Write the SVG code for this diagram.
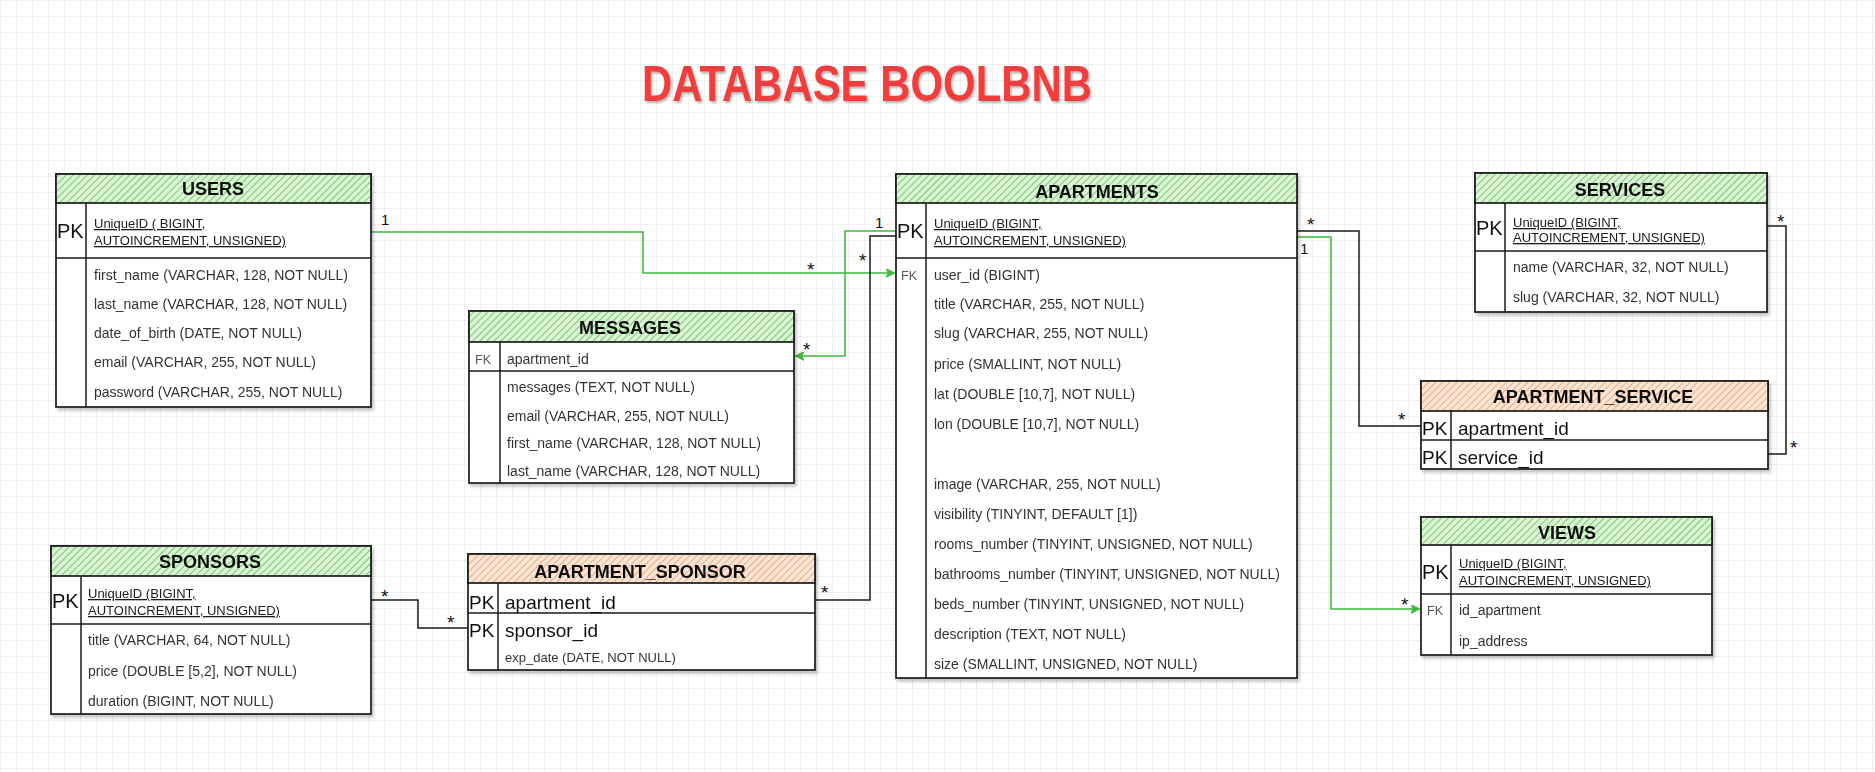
<svg xmlns="http://www.w3.org/2000/svg" width="1875" height="772" viewBox="0 0 1875 772">
<defs>
<pattern id="grid" width="16" height="16" patternUnits="userSpaceOnUse">
<path d="M16 0H0V16" fill="none" stroke="#e2e2e2" stroke-width="1"/>
</pattern>
<pattern id="hatchG" width="5" height="5" patternUnits="userSpaceOnUse" patternTransform="rotate(45)">
<rect width="5" height="5" fill="#dcf3d6"/>
<line x1="0" y1="0" x2="0" y2="5" stroke="#6cc56a" stroke-width="1.8"/>
</pattern>
<pattern id="hatchO" width="5" height="5" patternUnits="userSpaceOnUse" patternTransform="rotate(45)">
<rect width="5" height="5" fill="#fbe6d6"/>
<line x1="0" y1="0" x2="0" y2="5" stroke="#e9a57c" stroke-width="1.8"/>
</pattern>
<filter id="sh" x="-5%" y="-5%" width="110%" height="115%">
<feDropShadow dx="2" dy="3" stdDeviation="1.5" flood-color="#000" flood-opacity="0.22"/>
</filter>
<filter id="tsh" x="-5%" y="-10%" width="110%" height="130%">
<feDropShadow dx="1.5" dy="2" stdDeviation="1.2" flood-color="#000" flood-opacity="0.3"/>
</filter>
<marker id="arrG" viewBox="0 0 10 10" refX="9" refY="5" markerWidth="9" markerHeight="9" markerUnits="userSpaceOnUse" orient="auto">
<path d="M0,0 L10,5 L0,10 L2.5,5 Z" fill="#3dba3d" stroke="#3dba3d" stroke-width="1"/>
</marker>
<style>
text{font-family:"Liberation Sans",Arial,sans-serif}
.box{fill:#fff;stroke:#1a1a1a;stroke-width:1.7}
.hg{fill:url(#hatchG);stroke:#1a1a1a;stroke-width:1.7}
.ho{fill:url(#hatchO);stroke:#1a1a1a;stroke-width:1.7}
.ln{stroke:#1a1a1a;stroke-width:1.5;fill:none}
.tt{font-size:18px;fill:#111;text-anchor:middle;font-weight:bold}
.row{font-size:14px;fill:#333}
.pk{font-size:13px;fill:#1a1a1a;text-decoration:underline}
.key{font-size:20px;fill:#111}
.fk{font-size:12.5px;fill:#555}
.big{font-size:19px;fill:#111}
.card{font-size:15px;fill:#111}
.star{font-size:19px;fill:#111}
.cg{stroke:#3dba3d;stroke-width:1.6;fill:none}
.ck{stroke:#1a1a1a;stroke-width:1.5;fill:none}
</style>
</defs>
<rect width="1875" height="772" fill="#fff"/>
<rect width="1875" height="772" fill="url(#grid)"/>

<text x="867" y="101" font-size="50" font-weight="bold" fill="#f03c3c" text-anchor="middle" textLength="450" lengthAdjust="spacingAndGlyphs" filter="url(#tsh)">DATABASE BOOLBNB</text>

<g id="connectors">
<path class="cg" d="M371,232 H643 V273 H894" marker-end="url(#arrG)"/>
<path class="cg" d="M896,231 H845 V356 H796" marker-end="url(#arrG)"/>
<path class="ck" d="M896,236 H870 V600 H815"/>
<path class="ck" d="M371,600 H418 V628 H468"/>
<path class="ck" d="M1297,231 H1359 V426 H1421"/>
<path class="cg" d="M1297,237 H1331 V609 H1419" marker-end="url(#arrG)"/>
<path class="ck" d="M1767,226 H1786 V454 H1768"/>
<text class="card" x="381" y="225">1</text>
<text class="star" x="807" y="276">*</text>
<text class="card" x="875" y="228">1</text>
<text class="star" x="803" y="356">*</text>
<text class="star" x="859" y="267">*</text>
<text class="star" x="821" y="599">*</text>
<text class="star" x="381" y="603">*</text>
<text class="star" x="447" y="629">*</text>
<text class="star" x="1307" y="231">*</text>
<text class="card" x="1300" y="254">1</text>
<text class="star" x="1398" y="426">*</text>
<text class="star" x="1401" y="611">*</text>
<text class="star" x="1777" y="228">*</text>
<text class="star" x="1790" y="454">*</text>
</g>

<g id="users" filter="url(#sh)">
<rect class="box" x="56" y="174" width="315" height="233"/>
<rect class="hg" x="56" y="174" width="315" height="29"/>
<path class="ln" d="M56,258 H371 M86,203 V407"/>
<text class="tt" x="213" y="195">USERS</text>
<text class="key" x="57" y="238">PK</text>
<text class="pk" x="94" y="228">UniqueID ( BIGINT,</text>
<text class="pk" x="94" y="245">AUTOINCREMENT, UNSIGNED)</text>
<text class="row" x="94" y="280">first_name (VARCHAR, 128, NOT NULL)</text>
<text class="row" x="94" y="309">last_name (VARCHAR, 128, NOT NULL)</text>
<text class="row" x="94" y="338">date_of_birth (DATE, NOT NULL)</text>
<text class="row" x="94" y="367">email (VARCHAR, 255, NOT NULL)</text>
<text class="row" x="94" y="397">password (VARCHAR, 255, NOT NULL)</text>
</g>

<g id="messages" filter="url(#sh)">
<rect class="box" x="469" y="311" width="325" height="172"/>
<rect class="hg" x="469" y="311" width="325" height="31"/>
<path class="ln" d="M469,371 H794 M500,342 V483"/>
<text class="tt" x="630" y="334">MESSAGES</text>
<text class="fk" x="475" y="364">FK</text>
<text class="row" x="507" y="364">apartment_id</text>
<text class="row" x="507" y="392">messages (TEXT, NOT NULL)</text>
<text class="row" x="507" y="421">email (VARCHAR, 255, NOT NULL)</text>
<text class="row" x="507" y="448">first_name (VARCHAR, 128, NOT NULL)</text>
<text class="row" x="507" y="476">last_name (VARCHAR, 128, NOT NULL)</text>
</g>

<g id="sponsors" filter="url(#sh)">
<rect class="box" x="51" y="546" width="320" height="168"/>
<rect class="hg" x="51" y="546" width="320" height="30"/>
<path class="ln" d="M51,624 H371 M81,576 V714"/>
<text class="tt" x="210" y="568">SPONSORS</text>
<text class="key" x="52" y="608">PK</text>
<text class="pk" x="88" y="598">UniqueID (BIGINT,</text>
<text class="pk" x="88" y="615">AUTOINCREMENT, UNSIGNED)</text>
<text class="row" x="88" y="645">title (VARCHAR, 64, NOT NULL)</text>
<text class="row" x="88" y="676">price (DOUBLE [5,2], NOT NULL)</text>
<text class="row" x="88" y="706">duration (BIGINT, NOT NULL)</text>
</g>

<g id="apartment_sponsor" filter="url(#sh)">
<rect class="box" x="468" y="554" width="347" height="116"/>
<rect class="ho" x="468" y="554" width="347" height="29"/>
<path class="ln" d="M468,613 H815 M498,583 V670"/>
<text class="tt" x="640" y="578">APARTMENT_SPONSOR</text>
<text class="big" x="469" y="609">PK</text>
<text class="big" x="505" y="609">apartment_id</text>
<text class="big" x="469" y="637">PK</text>
<text class="big" x="505" y="637">sponsor_id</text>
<text class="row" x="505" y="662" style="font-size:13px">exp_date (DATE, NOT NULL)</text>
</g>

<g id="apartments" filter="url(#sh)">
<rect class="box" x="896" y="174" width="401" height="504"/>
<rect class="hg" x="896" y="174" width="401" height="29"/>
<path class="ln" d="M896,258 H1297 M926,203 V678"/>
<text class="tt" x="1097" y="198">APARTMENTS</text>
<text class="key" x="897" y="238">PK</text>
<text class="pk" x="934" y="228">UniqueID (BIGINT,</text>
<text class="pk" x="934" y="245">AUTOINCREMENT, UNSIGNED)</text>
<text class="fk" x="901" y="280">FK</text>
<text class="row" x="934" y="280">user_id (BIGINT)</text>
<text class="row" x="934" y="309">title (VARCHAR, 255, NOT NULL)</text>
<text class="row" x="934" y="338">slug (VARCHAR, 255, NOT NULL)</text>
<text class="row" x="934" y="369">price (SMALLINT, NOT NULL)</text>
<text class="row" x="934" y="399">lat (DOUBLE [10,7], NOT NULL)</text>
<text class="row" x="934" y="429">lon (DOUBLE [10,7], NOT NULL)</text>
<text class="row" x="934" y="489">image (VARCHAR, 255, NOT NULL)</text>
<text class="row" x="934" y="519">visibility (TINYINT, DEFAULT [1])</text>
<text class="row" x="934" y="549">rooms_number (TINYINT, UNSIGNED, NOT NULL)</text>
<text class="row" x="934" y="579">bathrooms_number (TINYINT, UNSIGNED, NOT NULL)</text>
<text class="row" x="934" y="609">beds_number (TINYINT, UNSIGNED, NOT NULL)</text>
<text class="row" x="934" y="639">description (TEXT, NOT NULL)</text>
<text class="row" x="934" y="669">size (SMALLINT, UNSIGNED, NOT NULL)</text>
</g>

<g id="services" filter="url(#sh)">
<rect class="box" x="1475" y="173" width="292" height="139"/>
<rect class="hg" x="1475" y="173" width="292" height="30"/>
<path class="ln" d="M1475,251 H1767 M1505,203 V312"/>
<text class="tt" x="1620" y="196">SERVICES</text>
<text class="key" x="1476" y="235">PK</text>
<text class="pk" x="1513" y="227">UniqueID (BIGINT,</text>
<text class="pk" x="1513" y="242">AUTOINCREMENT, UNSIGNED)</text>
<text class="row" x="1513" y="272">name (VARCHAR, 32, NOT NULL)</text>
<text class="row" x="1513" y="302">slug (VARCHAR, 32, NOT NULL)</text>
</g>

<g id="apartment_service" filter="url(#sh)">
<rect class="box" x="1421" y="381" width="347" height="88"/>
<rect class="ho" x="1421" y="381" width="347" height="30"/>
<path class="ln" d="M1421,440 H1768 M1451,411 V469"/>
<text class="tt" x="1593" y="403">APARTMENT_SERVICE</text>
<text class="big" x="1422" y="435">PK</text>
<text class="big" x="1458" y="435">apartment_id</text>
<text class="big" x="1422" y="464">PK</text>
<text class="big" x="1458" y="464">service_id</text>
</g>

<g id="views" filter="url(#sh)">
<rect class="box" x="1421" y="517" width="291" height="138"/>
<rect class="hg" x="1421" y="517" width="291" height="28"/>
<path class="ln" d="M1421,594 H1712 M1451,545 V655"/>
<text class="tt" x="1567" y="539">VIEWS</text>
<text class="key" x="1422" y="579">PK</text>
<text class="pk" x="1459" y="568">UniqueID (BIGINT,</text>
<text class="pk" x="1459" y="585">AUTOINCREMENT, UNSIGNED)</text>
<text class="fk" x="1427" y="615">FK</text>
<text class="row" x="1459" y="615">id_apartment</text>
<text class="row" x="1459" y="646">ip_address</text>
</g>
</svg>
